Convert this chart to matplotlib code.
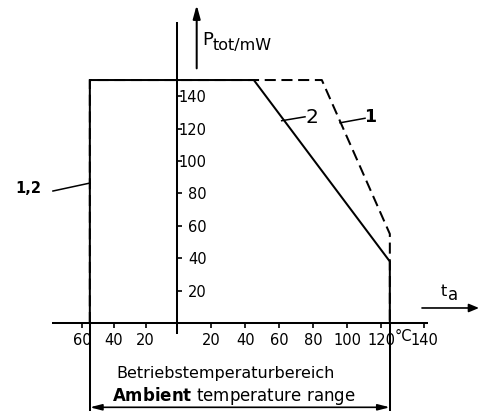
import numpy as np
import matplotlib
matplotlib.use('Agg')
import matplotlib.pyplot as plt

# ---- data ----
t_range = [-55, 125]                 # ambient temperature range, °C
curve2_t = [-55, -55, 45, 125, 125]  # curve 2 (solid)
curve2_p = [0, 150, 150, 38, 0]
curve1_t = [-55, -55, 85, 125, 125]  # curve 1 (dashed)
curve1_p = [0, 150, 150, 55, 0]
x_ticks = [-60, -40, -20, 20, 40, 60, 80, 100, 120, 140]
x_tick_labels = ['60', '40', '20', '20', '40', '60', '80', '100', '120', '140']
y_ticks = [20, 40, 60, 80, 100, 120, 140]
y_tick_labels = ['20', '40', '60', '80', '100', '120', '140']

plt.rcParams['font.family'] = ['DejaVu Sans']
plt.rcParams['mathtext.fontset'] = 'dejavusans'

# hand-drawn axis: slightly different spacing on each side
K_NEG, K_MID, K_HI, X_BRK = 1.59, 1.70, 2.28, 125.0


def fwd(x):
    x = np.asarray(x, dtype=float)
    return np.where(x < 0, x * K_NEG,
                    np.where(x <= X_BRK, x * K_MID,
                             X_BRK * K_MID + (x - X_BRK) * K_HI))


def inv(u):
    u = np.asarray(u, dtype=float)
    return np.where(u < 0, u / K_NEG,
                    np.where(u <= X_BRK * K_MID, u / K_MID,
                             X_BRK + (u - X_BRK * K_MID) / K_HI))


fig = plt.figure(figsize=(4.79, 4.12), dpi=100)
ax = fig.add_axes([0, 0, 1, 1])
ax.set_xscale('function', functions=(fwd, inv))
ax.set_xlim(-111.5, 164.1)
ax.set_ylim(-54.9, 199.4)

LW = 1.45
K = 'black'

# axes through the origin
for s in ('top', 'right'):
    ax.spines[s].set_visible(False)
ax.spines['left'].set_position(('data', 0))
ax.spines['bottom'].set_position(('data', 0))
ax.spines['left'].set_bounds(-6.2, 185.2)
ax.spines['bottom'].set_bounds(-78.4, 141.3)
ax.spines['left'].set_linewidth(LW)
ax.spines['bottom'].set_linewidth(LW)

ax.set_xticks(x_ticks, x_tick_labels)
ax.set_yticks(y_ticks, y_tick_labels)
ax.tick_params(axis='x', direction='out', length=3.5, width=1.2, pad=4, labelsize=10.5)
ax.tick_params(axis='y', direction='in', length=3.5, width=1.2, pad=-21, labelsize=10.5)

# curves
ax.plot(curve1_t, curve1_p, color=K, lw=LW, ls=(0, (5.5, 2.8)))
ax.plot(curve2_t, curve2_p, color=K, lw=LW, solid_joinstyle='miter')

# extension lines of the temperature range below the axis
for t in t_range:
    ax.plot([t, t], [0, -53.7], color=K, lw=LW)
ax.annotate('', xy=(t_range[0], -52), xytext=(t_range[1], -52),
            arrowprops=dict(arrowstyle='<|-|>,head_length=0.7,head_width=0.18',
                            color=K, lw=1.2, shrinkA=0, shrinkB=0))

# axis arrows
ax.annotate('', xy=(11.4, 196.3), xytext=(11.4, 157.2),
            arrowprops=dict(arrowstyle='-|>,head_length=0.8,head_width=0.22',
                            color=K, lw=LW, shrinkA=0, shrinkB=0))
ax.annotate('', xy=(164.1, 9.3), xytext=(139.1, 9.3),
            arrowprops=dict(arrowstyle='-|>,head_length=0.6,head_width=0.25',
                            color=K, lw=1.2, shrinkA=0, shrinkB=0))

# axis titles
ax.text(14.5, 174.7, 'P', fontsize=13, ha='left', va='center')
ax.text(21.0, 171.2, 'tot/mW', fontsize=11.5, ha='left', va='center')
ax.text(148.5, 19.5, 't', fontsize=11.5, ha='center', va='center')
ax.text(152.8, 17.2, 'a', fontsize=12, ha='center', va='center')
ax.text(131.0, -8.6, '°C', fontsize=10.5, ha='center', va='center')

# curve labels with leaders
ax.plot([-78.2, -55], [81.5, 86.4], color=K, lw=1.1)
ax.text(-93.5, 83.3, '1,2', fontsize=10.5, fontweight='bold', ha='center', va='center')
ax.plot([61.4, 75.1], [124.9, 127.3], color=K, lw=1.1)
ax.text(79.3, 126.9, '2', fontsize=14.5, ha='center', va='center')
ax.plot([95.7, 110.4], [123.6, 126.4], color=K, lw=1.1)
ax.text(113.4, 126.9, '1', fontsize=12.5, fontweight='bold', ha='center', va='center')

# range description
ax.text(28.6, -31.2, 'Betriebstemperaturbereich', fontsize=11.5, ha='center', va='center')
ax.text(33.4, -44.8, r'$\mathbf{Ambient}$ temperature range', fontsize=12,
        ha='center', va='center')

fig.savefig('out.png', dpi=100)
